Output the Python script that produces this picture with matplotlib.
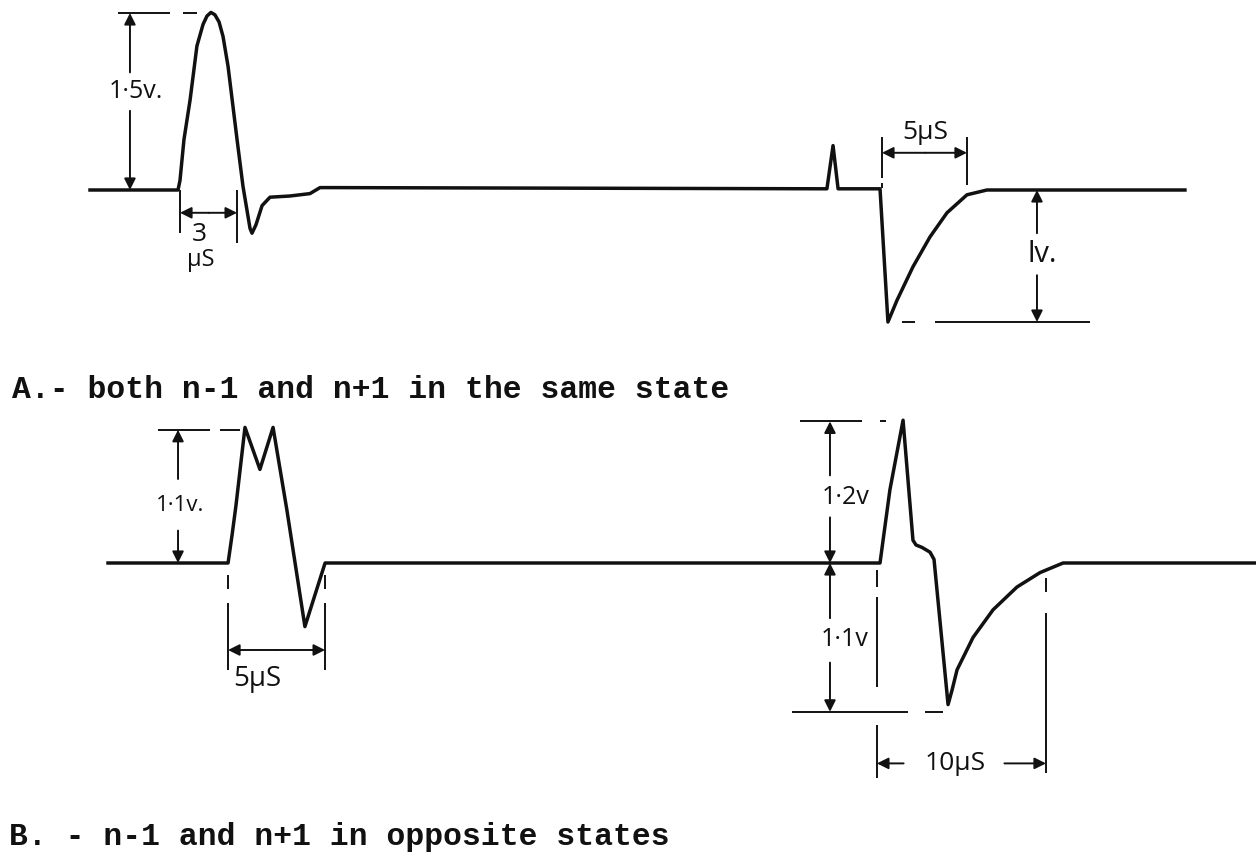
import matplotlib

matplotlib.use("Agg")
import matplotlib.pyplot as plt

# Trace A: both n-1 and n+1 in the same state (time in us, amplitude in volts)
A_T = [5.0, 9.89, 10.0, 10.22, 10.56, 10.94, 11.28, 11.5, 11.72, 11.94, 12.17,
       12.39, 12.67, 13.17, 13.5, 13.89, 14.0, 14.22, 14.56, 15.0, 16.11, 17.22,
       17.78, 18.33, 45.94, 46.28, 46.56, 48.89, 49.33, 49.83, 50.72, 51.67,
       52.61, 53.72, 54.83, 65.83]
A_V = [0.0, 0.0, 0.08, 0.42, 0.75, 1.2, 1.38, 1.45, 1.48, 1.46, 1.4,
       1.28, 1.03, 0.42, 0.03, -0.32, -0.36, -0.29, -0.13, -0.06, -0.05, -0.03,
       0.02, 0.02, 0.01, 0.37, 0.01, 0.01, -1.1, -0.92, -0.64, -0.39,
       -0.19, -0.04, 0.0, 0.0]

# Trace B: n-1 and n+1 in opposite states
B_T = [6.0, 12.67, 12.89, 13.11, 13.61, 14.44, 15.17, 15.94, 16.94, 18.06,
       48.72, 48.89, 49.06, 49.44, 50.17, 50.72, 50.89, 51.22, 51.67, 51.89,
       52.67, 52.89, 53.17, 54.06, 55.17, 56.5, 57.78, 59.06, 69.78]
B_V = [0.0, 0.0, 0.23, 0.48, 1.13, 0.78, 1.13, 0.44, -0.53, 0.0,
       0.0, 0.0, 0.19, 0.61, 1.19, 0.19, 0.15, 0.13, 0.09, 0.03,
       -1.18, -1.06, -0.89, -0.62, -0.39, -0.2, -0.08, 0.0, 0.0]

CAPTION_A = "A.- both n-1 and n+1 in the same state"
CAPTION_B = "B. - n-1 and n+1 in opposite states"

LABELS_A = ["1\u00b75v.", "3", "\u03bcS", "5\u03bcS", "lv."]
LABELS_B = ["1\u00b71v.", "5\u03bcS", "1\u00b72v", "1\u00b71v", "10\u03bcS"]

W, H = 1256, 859
INK = "#111111"
HAND = ["Open Sans", "DejaVu Sans"]
TYPE = ["Liberation Mono", "DejaVu Sans Mono"]


def line(ax, xs, ys, lw=1.4):
    ax.plot(xs, ys, color=INK, lw=lw, solid_capstyle="butt")


def arrow(ax, start, end):
    ax.annotate("", xy=end, xytext=start,
                arrowprops=dict(arrowstyle="-|>", color=INK, lw=1.4,
                                mutation_scale=17, shrinkA=0, shrinkB=0))


def label(ax, x, y, s, size=18):
    ax.text(x, y, s, ha="center", va="center", fontsize=size, color=INK,
            family=HAND)


fig = plt.figure(figsize=(W / 100, H / 100), dpi=100)

# panel A occupies pixel rows 0..345, panel B rows 400..815
ax_a = fig.add_axes([0, 1 - 345 / H, 1, 345 / H])
ax_a.set_xlim(0, W / 18)
ax_a.set_ylim((190 - 345) / 120, 190 / 120)
ax_b = fig.add_axes([0, (H - 815) / H, 1, 415 / H])
ax_b.set_xlim(0, W / 18)
ax_b.set_ylim((563 - 815) / 120, (563 - 400) / 120)
for ax in (ax_a, ax_b):
    ax.set_axis_off()

ax_a.plot(A_T, A_V, color=INK, lw=2.5, solid_joinstyle="round")
ax_b.plot(B_T, B_V, color=INK, lw=2.5, solid_joinstyle="round")

# ---- panel A dimensions
line(ax_a, [6.56, 9.44], [1.475, 1.475])
line(ax_a, [10.17, 10.94], [1.475, 1.475])
arrow(ax_a, (7.22, 0.98), (7.22, 1.475))
arrow(ax_a, (7.22, 0.66), (7.22, 0.0))
label(ax_a, 7.55, 0.82, LABELS_A[0])

line(ax_a, [10.0, 10.0], [0.0, -0.36])
line(ax_a, [13.17, 13.17], [0.0, -0.44])
arrow(ax_a, (11.6, -0.19), (10.0, -0.19))
arrow(ax_a, (11.6, -0.19), (13.17, -0.19))
label(ax_a, 11.06, -0.37, LABELS_A[1], size=19)
label(ax_a, 11.17, -0.58, LABELS_A[2], size=17)

line(ax_a, [49.0, 49.0], [0.44, 0.1])
line(ax_a, [49.0, 49.0], [0.06, 0.02])
line(ax_a, [53.72, 53.72], [0.44, 0.04])
arrow(ax_a, (51.4, 0.31), (49.0, 0.31))
arrow(ax_a, (51.4, 0.31), (53.72, 0.31))
label(ax_a, 51.39, 0.48, LABELS_A[3], size=19)

arrow(ax_a, (57.61, -0.36), (57.61, 0.0))
arrow(ax_a, (57.61, -0.71), (57.61, -1.1))
label(ax_a, 57.9, -0.54, LABELS_A[4], size=21)
line(ax_a, [50.11, 50.83], [-1.1, -1.1])
line(ax_a, [51.94, 60.56], [-1.1, -1.1])

# ---- panel B dimensions
line(ax_b, [8.78, 11.67], [1.11, 1.11])
line(ax_b, [12.22, 13.33], [1.11, 1.11])
arrow(ax_b, (9.89, 0.7), (9.89, 1.11))
arrow(ax_b, (9.89, 0.27), (9.89, 0.0))
label(ax_b, 10.0, 0.48, LABELS_B[0], size=16)

for t in (12.67, 18.06):
    line(ax_b, [t, t], [-0.1, -0.22])
    line(ax_b, [t, t], [-0.33, -0.89])
arrow(ax_b, (15.3, -0.725), (12.67, -0.725))
arrow(ax_b, (15.3, -0.725), (18.06, -0.725))
label(ax_b, 14.3, -0.97, LABELS_B[1], size=20)

line(ax_b, [44.44, 47.89], [1.18, 1.18])
line(ax_b, [48.89, 49.22], [1.18, 1.18])
line(ax_b, [44.0, 50.44], [-1.24, -1.24])
line(ax_b, [51.39, 52.39], [-1.24, -1.24])
arrow(ax_b, (46.11, 0.73), (46.11, 1.18))
arrow(ax_b, (46.11, 0.38), (46.11, 0.0))
arrow(ax_b, (46.11, -0.46), (46.11, 0.0))
arrow(ax_b, (46.11, -0.83), (46.11, -1.24))
label(ax_b, 47.0, 0.55, LABELS_B[2], size=18)
label(ax_b, 46.9, -0.64, LABELS_B[3], size=18)

line(ax_b, [48.72, 48.72], [-0.06, -0.2])
line(ax_b, [48.72, 48.72], [-0.28, -1.03])
line(ax_b, [48.72, 48.72], [-1.35, -1.79])
line(ax_b, [58.11, 58.11], [-0.125, -0.24])
line(ax_b, [58.11, 58.11], [-0.42, -1.75])
arrow(ax_b, (50.2, -1.67), (48.72, -1.67))
arrow(ax_b, (55.8, -1.67), (58.11, -1.67))
label(ax_b, 53.05, -1.67, LABELS_B[4], size=19)

# typed captions
fig.text(12 / W, 1 - 390 / H, CAPTION_A, ha="left", va="center",
         family=TYPE, fontsize=22.6, fontweight="bold", color=INK)
fig.text(9 / W, 1 - 837 / H, CAPTION_B, ha="left", va="center",
         family=TYPE, fontsize=22.6, fontweight="bold", color=INK)

fig.savefig("out.png", dpi=100, facecolor="white")
